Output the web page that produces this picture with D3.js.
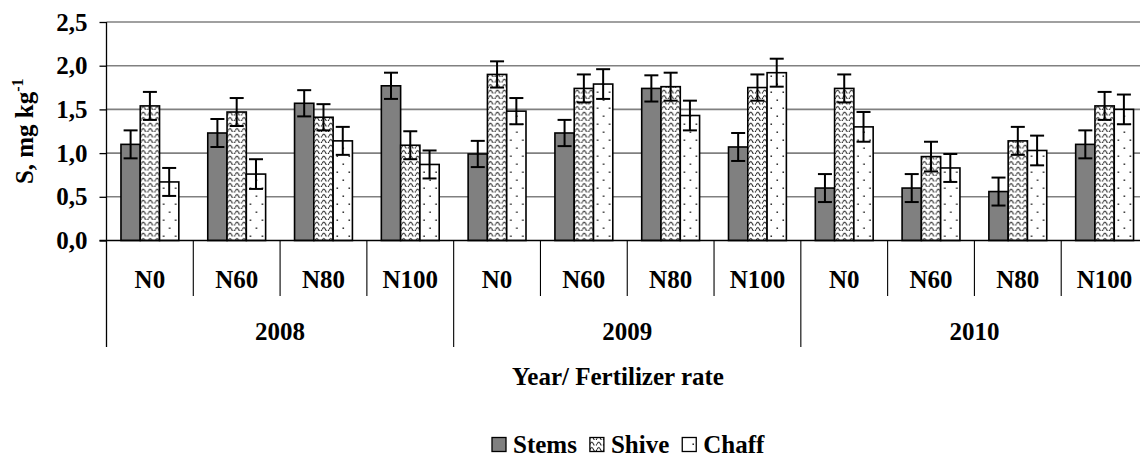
<!DOCTYPE html>
<html>
<head>
<meta charset="utf-8">
<script src="https://cdn.jsdelivr.net/npm/d3@7"></script>
<style>
    body { margin: 0; background: #fff; }
    #chart text { font-family: "Liberation Serif", "Times New Roman", serif; font-weight: 700; fill: #000; }
</style>
</head>
<body>
<svg id="chart" width="1140" height="458"></svg>
<script>
// data
const years = ['2008', '2009', '2010'];
const rates = ['N0', 'N60', 'N80', 'N100'];
const seriesNames = ['Stems', 'Shive', 'Chaff'];

const stems    = [1.10, 1.23, 1.57, 1.77, 0.99, 1.23, 1.74, 1.07, 0.60, 0.60, 0.56, 1.10];
const shive    = [1.54, 1.47, 1.41, 1.09, 1.90, 1.74, 1.76, 1.75, 1.74, 0.96, 1.14, 1.54];
const chaff    = [0.67, 0.76, 1.14, 0.87, 1.48, 1.79, 1.43, 1.92, 1.30, 0.83, 1.03, 1.50];
const stemsErr = [0.16, 0.16, 0.15, 0.15, 0.15, 0.15, 0.15, 0.16, 0.16, 0.16, 0.16, 0.16];
const shiveErr = [0.16, 0.16, 0.15, 0.16, 0.15, 0.16, 0.16, 0.15, 0.16, 0.17, 0.16, 0.16];
const chaffErr = [0.16, 0.17, 0.16, 0.16, 0.15, 0.17, 0.17, 0.16, 0.17, 0.16, 0.17, 0.17];

const yTicks = [0, 0.5, 1.0, 1.5, 2.0, 2.5];

(function (d3) {
    const svg = d3.select('#chart');
    const left = 106.5, right = 1148, top = 22, base = 240.5;
    const serif = '"Liberation Serif", "Times New Roman", serif';
    const fs = '25px';

    // one key per bar group (year + rate)
    const groups = [];
    years.forEach(y => rates.forEach(r => groups.push(y + '|' + r)));

    const rows = groups.map((g, i) => ({
        key: g,
        year: g.split('|')[0],
        rate: g.split('|')[1],
        vals: [
            {s: 'Stems', v: stems[i], e: stemsErr[i]},
            {s: 'Shive', v: shive[i], e: shiveErr[i]},
            {s: 'Chaff', v: chaff[i], e: chaffErr[i]}
        ]
    }));

    const x = d3.scaleBand().domain(groups).range([left, right]).padding(0);
    const xs = d3.scaleBand().domain(seriesNames).range([0, x.bandwidth()])
        .paddingInner(0).paddingOuter(0.75);
    const y = d3.scaleLinear().domain([0, 2.5]).range([base, top]);

    // patterns
    const defs = svg.append('defs');
    const wave = defs.append('pattern').attr('id', 'wave')
        .attr('patternUnits', 'userSpaceOnUse').attr('width', 7).attr('height', 5.5);
    wave.append('rect').attr('width', 7).attr('height', 5.5).attr('fill', '#fff');
    wave.append('path').attr('d', 'M0,4 Q1.75,0 3.5,4 T7,4')
        .attr('fill', 'none').attr('stroke', '#000').attr('stroke-width', 1);

    const dots = defs.append('pattern').attr('id', 'dots')
        .attr('patternUnits', 'userSpaceOnUse').attr('width', 12).attr('height', 16);
    dots.append('rect').attr('width', 12).attr('height', 16).attr('fill', '#fff');
    dots.append('rect').attr('x', 2.5).attr('y', 3.5).attr('width', 1.4).attr('height', 1.4).attr('fill', '#000');
    dots.append('rect').attr('x', 8.5).attr('y', 11.5).attr('width', 1.4).attr('height', 1.4).attr('fill', '#000');

    const fills = {Stems: '#808080', Shive: 'url(#wave)', Chaff: 'url(#dots)'};

    // gridlines
    svg.append('g')
        .attr('class', 'grid')
        .selectAll('line')
        .data(yTicks.filter(t => t > 0)).enter()
        .append('line')
        .attr('x1', left).attr('x2', right)
        .attr('y1', d => y(d)).attr('y2', d => y(d))
        .attr('stroke', '#808080').attr('stroke-width', 1.6);

    // bars
    const g = svg.selectAll('.grp')
        .data(rows).enter()
        .append('g').attr('class', 'grp')
        .attr('transform', d => 'translate(' + x(d.key) + ',0)');

    g.selectAll('.bar')
        .data(d => d.vals).enter()
        .append('rect').attr('class', 'bar')
        .attr('x', d => xs(d.s))
        .attr('y', d => y(d.v))
        .attr('width', xs.bandwidth())
        .attr('height', d => y(0) - y(d.v))
        .attr('fill', d => fills[d.s])
        .attr('stroke', '#000').attr('stroke-width', 1.6);

    // error bars
    const capW = 14;
    const cx = d => xs(d.s) + xs.bandwidth() / 2;
    const err = g.selectAll('.err')
        .data(d => d.vals).enter()
        .append('g').attr('class', 'err')
        .attr('stroke', '#000').attr('stroke-width', 2);
    err.append('line')
        .attr('x1', cx).attr('x2', cx)
        .attr('y1', d => y(d.v + d.e)).attr('y2', d => y(d.v - d.e));
    err.append('line')
        .attr('x1', d => cx(d) - capW / 2).attr('x2', d => cx(d) + capW / 2)
        .attr('y1', d => y(d.v + d.e)).attr('y2', d => y(d.v + d.e));
    err.append('line')
        .attr('x1', d => cx(d) - capW / 2).attr('x2', d => cx(d) + capW / 2)
        .attr('y1', d => y(d.v - d.e)).attr('y2', d => y(d.v - d.e));

    // y axis
    const yAxis = d3.axisLeft(y)
        .tickValues(yTicks)
        .tickSize(7).tickSizeOuter(0).tickPadding(12)
        .tickFormat(d => d3.format('.1f')(d).replace('.', ','));
    const ya = svg.append('g')
        .attr('transform', 'translate(' + left + ',0)')
        .call(yAxis);
    ya.select('.domain').remove();
    ya.selectAll('line').attr('stroke', '#000').attr('stroke-width', 1.3);
    ya.selectAll('text').style('font-size', fs);

    // axis lines
    svg.append('line')
        .attr('x1', left).attr('x2', left).attr('y1', top).attr('y2', 347)
        .attr('stroke', '#000').attr('stroke-width', 1.3);
    svg.append('line')
        .attr('x1', left - 7).attr('x2', right).attr('y1', y(0)).attr('y2', y(0))
        .attr('stroke', '#000').attr('stroke-width', 1.6);

    // category separators
    svg.selectAll('.sep')
        .data(groups.slice(1)).enter()
        .append('line').attr('class', 'sep')
        .attr('x1', d => x(d)).attr('x2', d => x(d))
        .attr('y1', y(0))
        .attr('y2', d => d.split('|')[1] === rates[0] ? 347 : 296)
        .attr('stroke', '#000').attr('stroke-width', 1.1);

    // rate labels
    svg.selectAll('.rate')
        .data(rows).enter()
        .append('text').attr('class', 'rate')
        .attr('x', d => x(d.key) + x.bandwidth() / 2)
        .attr('y', 288)
        .attr('text-anchor', 'middle')
        .style('font-size', fs)
        .text(d => d.rate);

    // year labels
    svg.selectAll('.year')
        .data(years).enter()
        .append('text').attr('class', 'year')
        .attr('x', d => x(d + '|' + rates[0]) + x.bandwidth() * rates.length / 2)
        .attr('y', 340)
        .attr('text-anchor', 'middle')
        .style('font-size', fs)
        .text(d => d);

    // axis titles
    svg.append('text')
        .attr('x', 618).attr('y', 385)
        .attr('text-anchor', 'middle')
        .style('font-size', fs)
        .text('Year/ Fertilizer rate');

    const yt = svg.append('text')
        .attr('transform', 'translate(33,' + ((top + base) / 2) + ') rotate(-90)')
        .attr('text-anchor', 'middle')
        .style('font-size', '25px');
    yt.append('tspan').text('S, mg kg');
    yt.append('tspan').attr('dy', -10).style('font-size', '16px').text('-1');

    // legend
    const legend = svg.append('g').attr('transform', 'translate(492,0)');
    let lx = 0;
    seriesNames.forEach(name => {
        legend.append('rect')
            .attr('x', lx).attr('y', 437.5).attr('width', 14).attr('height', 14)
            .attr('fill', fills[name]).attr('stroke', '#000').attr('stroke-width', 1.3);
        const t = legend.append('text')
            .attr('x', lx + 21).attr('y', 453)
            .style('font-size', fs)
            .text(name);
        lx += 21 + t.node().getComputedTextLength() + 13;
    });

    svg.selectAll('text').style('font-family', serif);

})(d3);
</script>
</body>
</html>
